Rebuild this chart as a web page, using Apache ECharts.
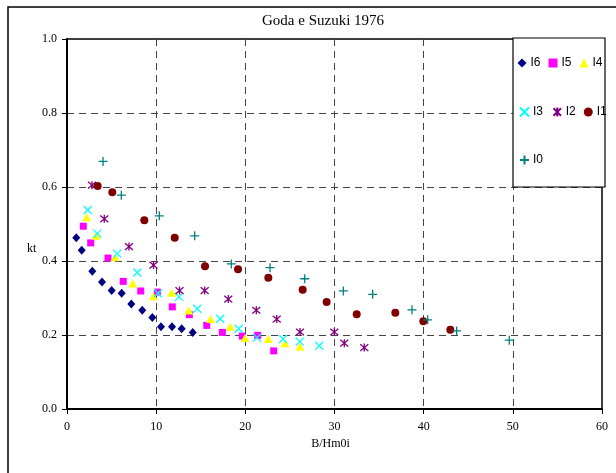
<!DOCTYPE html>
<html>
<head>
<meta charset="utf-8">
<script src="https://cdn.jsdelivr.net/npm/echarts@6/dist/echarts.min.js"></script>
<style>
  html, body { margin: 0; padding: 0; background: #fff; }
  #chart { width: 616px; height: 473px; }
</style>
</head>
<body>
<div id="chart"></div>
<script>
// Transmission coefficient kt against relative crest width B/Hm0i
const xTicks = [0, 10, 20, 30, 40, 50, 60];
const yTicks = [0.0, 0.2, 0.4, 0.6, 0.8, 1.0];

const xI6 = [1.04, 1.65, 2.84, 3.93, 5.01, 6.13, 7.21, 8.44, 9.57, 10.54, 11.78, 12.86, 14.10];
const yI6 = [0.463, 0.429, 0.372, 0.343, 0.320, 0.313, 0.284, 0.267, 0.247, 0.222, 0.222, 0.217, 0.207];

const xI5 = [1.83, 2.66, 4.60, 6.31, 8.27, 10.13, 11.81, 13.72, 15.67, 17.42, 19.66, 21.39, 23.18];
const yI5 = [0.494, 0.449, 0.408, 0.345, 0.319, 0.316, 0.276, 0.255, 0.226, 0.207, 0.197, 0.199, 0.157];

const xI4 = [2.21, 3.25, 5.38, 7.37, 9.68, 11.74, 13.65, 16.11, 18.31, 19.96, 22.57, 24.45, 26.13];
const yI4 = [0.518, 0.468, 0.410, 0.339, 0.305, 0.314, 0.266, 0.243, 0.222, 0.192, 0.189, 0.178, 0.168];

const xI3 = [2.32, 3.40, 5.63, 7.88, 10.21, 12.56, 14.61, 17.19, 19.26, 21.31, 24.22, 26.10, 28.29];
const yI3 = [0.538, 0.474, 0.420, 0.369, 0.313, 0.303, 0.271, 0.244, 0.217, 0.193, 0.189, 0.182, 0.171];

const xI2 = [2.80, 4.18, 6.95, 9.70, 12.62, 15.44, 18.09, 21.23, 23.52, 26.13, 29.98, 31.10, 33.34];
const yI2 = [0.605, 0.514, 0.439, 0.389, 0.320, 0.320, 0.297, 0.267, 0.243, 0.208, 0.208, 0.178, 0.166];

const xI1 = [3.44, 5.08, 8.67, 12.08, 15.48, 19.18, 22.58, 26.43, 29.12, 32.49, 36.82, 39.96, 42.99];
const yI1 = [0.603, 0.586, 0.510, 0.463, 0.386, 0.378, 0.355, 0.322, 0.289, 0.256, 0.260, 0.237, 0.214];

const xI0 = [4.04, 6.09, 10.35, 14.32, 18.43, 22.77, 26.66, 30.99, 34.28, 38.69, 40.45, 43.70, 49.60];
const yI0 = [0.669, 0.578, 0.522, 0.468, 0.392, 0.382, 0.352, 0.319, 0.310, 0.268, 0.241, 0.211, 0.186];

const pairs = (xs, ys) => xs.map((x, i) => [x, ys[i]]);

const SERIF = '"Liberation Serif", "Times New Roman", serif';
const SANS = '"Liberation Sans", Arial, sans-serif';

const CROSS = 'path://M0 0L10 10M10 0L0 10';
const STAR = 'path://M0 0L10 10M10 0L0 10M5 -1L5 11';
const PLUS = 'path://M5 0L5 10M0 5L10 5';

function filled(name, xs, ys, symbol, size, color) {
  return {
    name, type: 'scatter', data: pairs(xs, ys),
    symbol, symbolSize: size,
    itemStyle: { color, opacity: 1 },
    emphasis: { disabled: true }
  };
}
function stroked(name, xs, ys, symbol, size, color) {
  return {
    name, type: 'scatter', data: pairs(xs, ys),
    symbol, symbolSize: size,
    itemStyle: { color: 'none', borderColor: color, borderWidth: 1.3, opacity: 1 },
    emphasis: { disabled: true }
  };
}

const gridDash = { color: '#444', width: 1, type: [7, 5] };

const legendBase = {
  orient: 'horizontal', left: 517.5, padding: 0, itemGap: 8, itemWidth: 9, itemHeight: 9,
  textStyle: { fontFamily: SANS, fontSize: 12, color: '#000', padding: [0, 0, 0, -1] },
  selectedMode: false, z: 6
};

const chart = echarts.init(document.getElementById('chart'));
chart.setOption({
  animation: false,
  backgroundColor: '#fff',
  title: {
    text: 'Goda e Suzuki 1976', left: 257, top: 9,
    textStyle: { fontFamily: SERIF, fontSize: 15, fontWeight: 'normal', color: '#000' }
  },
  grid: {
    left: 67, right: 14, top: 39, bottom: 64,
    show: true, borderColor: '#000', borderWidth: 1.5, backgroundColor: 'transparent'
  },
  legend: [
    Object.assign({}, legendBase, { top: 57, data: ['I6', 'I5', 'I4'] }),
    Object.assign({}, legendBase, { top: 105, data: ['I3', 'I2', 'I1'] }),
    Object.assign({}, legendBase, { top: 153, data: ['I0'] })
  ],
  xAxis: {
    type: 'value', min: xTicks[0], max: xTicks[xTicks.length - 1], interval: 10,
    name: 'B/Hm0i', nameLocation: 'middle', nameGap: 28,
    nameTextStyle: { fontFamily: SERIF, fontSize: 12, color: '#000', padding: [0, 8, 0, 0] },
    axisLine: { show: true, lineStyle: { color: '#000', width: 2 } },
    axisTick: { show: true, length: 5, lineStyle: { color: '#000', width: 1 } },
    axisLabel: { fontFamily: SERIF, fontSize: 12, color: '#000', margin: 12 },
    splitLine: { show: true, showMinLine: false, showMaxLine: false, lineStyle: gridDash }
  },
  yAxis: {
    type: 'value', min: yTicks[0], max: yTicks[yTicks.length - 1], interval: 0.2,
    axisLine: { show: true, lineStyle: { color: '#000', width: 2 } },
    axisTick: { show: true, length: 5, lineStyle: { color: '#000', width: 1 } },
    axisLabel: {
      fontFamily: SERIF, fontSize: 12, color: '#000', margin: 10,
      formatter: v => v.toFixed(1)
    },
    splitLine: { show: true, showMinLine: false, showMaxLine: false, lineStyle: gridDash }
  },
  graphic: [
    {
      type: 'text', left: 27, top: 243,
      style: { text: 'kt', font: '12px ' + SERIF, fill: '#000' }
    },
    {
      type: 'rect', z: 4,
      shape: { x: 513, y: 38, width: 92, height: 149 },
      style: { fill: '#fff', stroke: '#000', lineWidth: 1.2 }
    },
    {
      type: 'rect', z: 10, silent: true,
      shape: { x: 8, y: 7, width: 640, height: 500 },
      style: { fill: 'none', stroke: '#000', lineWidth: 1.5 }
    }
  ],
  series: [
    filled('I6', xI6, yI6, 'diamond', [8, 9], '#000080'),
    filled('I5', xI5, yI5, 'rect', 7, '#FF00FF'),
    filled('I4', xI4, yI4, 'triangle', [9, 8], '#FFFF00'),
    stroked('I3', xI3, yI3, CROSS, 8, '#00FFFF'),
    stroked('I2', xI2, yI2, STAR, 8, '#800080'),
    filled('I1', xI1, yI1, 'circle', 8, '#800000'),
    stroked('I0', xI0, yI0, PLUS, 9, '#008080')
  ]
});
</script>
</body>
</html>
